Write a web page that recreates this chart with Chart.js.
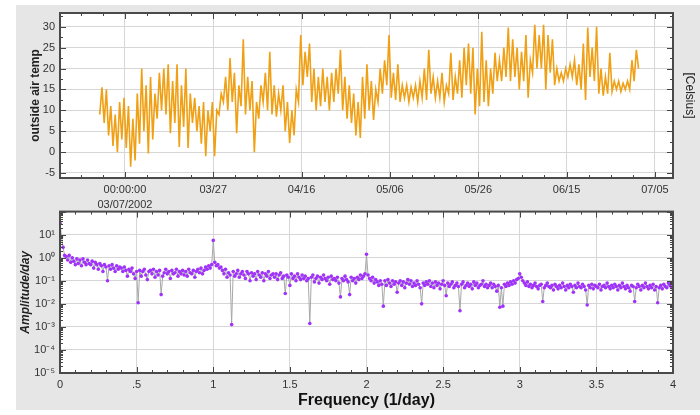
<!DOCTYPE html>
<html><head><meta charset="utf-8">
<script src="https://cdn.jsdelivr.net/npm/chart.js@4.4.1/dist/chart.umd.min.js"></script>
<style>
html,body{margin:0;padding:0;background:#fff;width:700px;height:415px;overflow:hidden;}
#bg{position:absolute;left:16px;top:5px;width:684px;height:405px;background:#e6e6e6;}
canvas{position:absolute;left:0;}
#c1{top:0}
#c2{top:200px}
</style></head><body>
<div id="bg"></div>
<canvas id="c1" width="700" height="215"></canvas>
<canvas id="c2" width="700" height="215"></canvas>
<script>
// ---------- DATA ----------
// top panel: outside air temperature (Celsius), samples every half day starting 5.7 days before 03/07/2002
const tempStartDay = -5.7;
const tempStepDays = 0.5;
const outsideTemp = [
  9,15.5, 7,15, 4,11, 1.5,9, 0,12, 3,13,
  1,11, -3.5,8, -2,14, 2,20, 5,16, -0.3,18, 3,14, 8,19, 10,20, 9,21,
  4.5,17, 7,21, 1.2,16, 6,20, 1,14, 7,13, 5,11, 2,12, -1,10, 5,12,
  -1,10, 9,14, 12,18, 10,22.5, 12,19, 4.5,16, 11,27, 9,18, 10,17, 0,12,
  8,16, 12,19, 10,24, 9,16, 8.5,14, 10,16, 5,12, 2.2,10, 4,15, 12,28,
  16,24, 18,26, 12,20, 10,18, 11,20, 12,18, 10,19, 12,20, 14,24.5, 10,18,
  8,16, 7,14, 4,12, 3.4,18, 8,21, 10,17, 7.7,15, 12,20, 14,22, 16,28,
  13,19, 12.5,21, 12,16, 13,16, 12,15.5, 13,16, 12,17, 13,20, 12.5,24.5, 14,18,
  13,17, 13,19, 12,16, 14,23.8, 12.5,18, 14,22, 13,25, 16,26, 14,25, 9,20,
  11,28.8, 12,22, 11,20, 14,23.8, 17,22, 17,25, 18,29.8, 17,27, 18,25, 15,24,
  17,28, 13,22, 19,30.5, 20,28, 20,30.5, 15,28, 19,27, 16,20, 17,19, 17,20,
  18,21, 18,22, 16,21, 15,26, 12.5,29.8, 18,25, 17,30, 14,20, 13.5,18, 14,23.8,
  14.5,17, 15,17, 14.5,16.5, 15,17, 15,22, 17,24.5, 20
];
const dateTicks = [0, 20, 40, 60, 80, 100, 120];           // days after 03/07/2002
const dateLabels = [['00:00:00', '03/07/2002'], '03/27', '04/16', '05/06', '05/26', '06/15', '07/05'];
const tempTicks = [-5, 0, 5, 10, 15, 20, 25, 30];

// bottom panel: amplitude spectrum, log10(amplitude/day) every 0.01 1/day from 0 to 4
const freqStep = 0.01;
const ampLog10 = [
  1.5,0.9,0.45,0.1,0.05,-0.1,0.1,-0.2,0.0,-0.15,-0.3,-0.05,-0.25,-0.1,-0.35,-0.05,-0.2,-0.3,-0.1,-0.25,
  -0.3,-0.15,-0.45,-0.2,-0.3,-0.5,-0.25,-0.35,-0.6,-0.3,-0.4,-1.0,-0.35,-0.5,-0.3,-0.45,-0.6,-0.35,-0.5,-0.4,
  -0.45,-0.6,-0.4,-0.55,-0.8,-0.5,-0.6,-0.45,-0.7,-0.9,-0.6,-1.95,-0.55,-0.8,-0.6,-0.5,-0.75,-0.95,-0.6,-0.55,
  -0.7,-0.5,-0.85,-0.6,-0.75,-0.55,-1.6,-0.8,-0.65,-0.5,-0.7,-0.6,-0.9,-0.55,-0.7,-0.65,-0.5,-0.8,-0.6,-0.7,
  -0.55,-0.75,-0.6,-0.8,-0.5,-0.65,-0.7,-0.55,-0.85,-0.6,-0.5,-0.65,-0.45,-0.7,-0.55,-0.4,-0.5,-0.35,-0.45,-0.3,
  0.75,-0.2,-0.35,-0.3,-0.45,-0.4,-0.55,-0.7,-0.5,-0.85,-0.65,-0.75,-2.9,-0.6,-0.8,-0.7,-0.55,-0.85,-0.7,-0.6,
  -0.75,-0.9,-0.6,-0.7,-1.0,-0.65,-0.8,-0.7,-0.95,-0.6,-0.75,-0.85,-0.65,-1.0,-0.7,-0.8,-0.6,-0.9,-0.75,-0.7,
  -0.85,-0.7,-0.95,-0.75,-0.65,-0.9,-0.8,-1.55,-0.75,-0.85,-1.2,-0.7,-0.9,-0.8,-1.0,-0.7,-0.85,-0.95,-0.75,-0.9,
  -0.8,-1.0,-0.9,-2.85,-0.85,-0.75,-1.05,-0.9,-0.8,-1.1,-0.85,-0.95,-0.75,-0.9,-1.0,-0.85,-1.15,-0.8,-0.95,-0.9,
  -1.0,-0.85,-1.1,-1.7,-0.9,-1.0,-0.8,-0.95,-1.05,-1.6,-0.85,-1.0,-0.9,-1.1,-0.85,-0.95,-0.75,-0.9,-0.8,-0.7,
  0.15,-0.75,-0.9,-1.0,-0.85,-1.1,-0.95,-1.05,-1.2,-1.0,-1.15,-2.1,-1.0,-1.2,-0.95,-1.1,-1.25,-1.0,-1.15,-1.05,
  -1.5,-1.1,-1.0,-1.2,-1.05,-1.3,-1.1,-0.95,-1.15,-1.0,-1.25,-1.1,-1.2,-1.0,-1.15,-1.3,-2.0,-1.1,-1.2,-1.05,
  -1.15,-1.0,-1.25,-1.1,-1.3,-1.05,-1.2,-1.1,-1.35,-1.15,-1.0,-1.2,-1.65,-1.1,-1.25,-1.15,-1.05,-1.3,-1.2,-1.1,
  -1.25,-2.3,-1.15,-1.05,-1.3,-1.2,-1.1,-1.25,-1.15,-1.35,-1.05,-1.2,-1.1,-1.3,-1.2,-1.15,-1.0,-1.25,-1.15,-1.3,
  -1.2,-1.1,-1.3,-1.15,-1.25,-1.45,-1.2,-2.15,-1.3,-2.1,-1.15,-1.25,-1.1,-1.2,-1.05,-1.15,-1.0,-1.1,-0.95,-0.9,
  -0.7,-0.85,-1.0,-1.1,-1.2,-1.05,-1.25,-1.15,-1.3,-1.2,-1.1,-1.25,-1.35,-1.2,-1.15,-1.9,-1.3,-1.2,-1.1,-1.25,
  -1.3,-1.2,-1.4,-1.15,-1.25,-1.35,-1.2,-1.3,-1.1,-1.25,-1.4,-1.2,-1.3,-1.15,-1.25,-1.5,-1.2,-1.3,-1.1,-1.25,
  -1.3,-1.15,-1.25,-1.4,-2.05,-1.2,-1.3,-1.15,-1.35,-1.2,-1.25,-1.3,-1.15,-1.4,-1.25,-1.2,-1.3,-1.1,-1.25,-1.35,
  -1.2,-1.3,-1.15,-1.25,-1.4,-1.2,-1.3,-1.1,-1.25,-1.35,-1.2,-1.3,-1.45,-1.2,-1.25,-1.9,-1.3,-1.15,-1.25,-1.4,
  -1.2,-1.3,-1.1,-1.25,-1.35,-1.2,-1.3,-1.15,-1.4,-1.25,-1.95,-1.3,-1.2,-1.35,-1.15,-1.25,-1.3,-1.1,-1.2,-1.3,
  -1.15
];
const freqTicks = [0, 0.5, 1, 1.5, 2, 2.5, 3, 3.5, 4];
const freqLabels = ['0', '.5', '1', '1.5', '2', '2.5', '3', '3.5', '4'];
const ampTicks = [1e-5, 1e-4, 1e-3, 1e-2, 1e-1, 1e0, 1e1, 1e2];
const ampLabels = ['10\u207B\u2075', '10\u207B\u2074', '10\u207B\u00B3', '10\u207B\u00B2', '10\u207B\u00B9', '10\u2070', '10\u00B9', ''];

// ---------- STYLE ----------
const ORANGE = 'rgb(240,160,20)';
const PURPLE = 'rgb(160,50,250)';
const GRID = '#d6d6d6';
Chart.defaults.font.family = '"Liberation Sans", Arial, Helvetica, sans-serif';
Chart.defaults.color = '#333';

function steps(a, b, s) { const r = []; for (let v = Math.ceil(a / s) * s; v <= b + 1e-9; v += s) r.push(+v.toFixed(6)); return r; }
function logMinors(n0, n1) { const r = []; for (let n = n0; n < n1; n++) for (let k = 2; k <= 9; k++) r.push(k * Math.pow(10, n)); return r; }

const framePlugin = {
  id: 'frame',
  beforeDraw(chart) {
    const {ctx, chartArea: a} = chart;
    ctx.save(); ctx.fillStyle = '#fff';
    ctx.fillRect(a.left, a.top, a.right - a.left, a.bottom - a.top);
    ctx.restore();
  },
  afterDraw(chart, args, o) {
    const {ctx, chartArea: a} = chart;
    const xs = chart.scales.x, ys = chart.scales.y;
    ctx.save();
    ctx.strokeStyle = '#444'; ctx.lineWidth = 1;
    ctx.beginPath();
    const vx = (vals, len) => vals.forEach(v => { const p = Math.round(xs.getPixelForValue(v)) + 0.5; if (p < a.left || p > a.right) return;
      ctx.moveTo(p, a.bottom); ctx.lineTo(p, a.bottom - len); ctx.moveTo(p, a.top); ctx.lineTo(p, a.top + len); });
    const vy = (vals, len) => vals.forEach(v => { const p = Math.round(ys.getPixelForValue(v)) + 0.5; if (p < a.top || p > a.bottom) return;
      ctx.moveTo(a.left, p); ctx.lineTo(a.left + len, p); ctx.moveTo(a.right, p); ctx.lineTo(a.right - len, p); });
    vx(o.xMajor, 6); vx(o.xMinor, 3); vy(o.yMajor, 6); vy(o.yMinor, 3);
    ctx.stroke();
    ctx.lineWidth = 2; ctx.strokeStyle = '#4a4a4a';
    ctx.strokeRect(a.left, a.top, a.right - a.left, a.bottom - a.top);
    ctx.restore();
  }
};

// ---------- TOP CHART ----------
const tempPoints = outsideTemp.map((v, i) => ({x: tempStartDay + i * tempStepDays, y: v}));
const X1MIN = -14.7, X1MAX = 124.1, Y1MIN = -6.2, Y1MAX = 33.3;
new Chart(document.getElementById('c1'), {
  type: 'line',
  data: {datasets: [{data: tempPoints, borderColor: ORANGE, borderWidth: 1.6, pointRadius: 0, tension: 0, fill: false}]},
  options: {
    responsive: false, animation: false, devicePixelRatio: 1,
    layout: {padding: {top: 13, left: 0, right: 0, bottom: 0}},
    plugins: {legend: {display: false}, tooltip: {enabled: false},
      frame: {xMajor: dateTicks, xMinor: steps(X1MIN, X1MAX, 5), yMajor: tempTicks, yMinor: steps(Y1MIN, Y1MAX, 2.5)}},
    scales: {
      x: {type: 'linear', min: X1MIN, max: X1MAX,
        afterBuildTicks: s => { s.ticks = dateTicks.map(v => ({value: v})); },
        afterFit: s => { s.height = 37; },
        ticks: {callback: v => dateLabels[dateTicks.indexOf(v)], padding: 5, maxRotation: 0, autoSkip: false, font: {size: 11, lineHeight: 1.35}},
        grid: {color: GRID, drawTicks: false}, border: {display: false}},
      y: {type: 'linear', min: Y1MIN, max: Y1MAX,
        afterBuildTicks: s => { s.ticks = tempTicks.map(v => ({value: v})); },
        afterFit: s => { s.width = 60; },
        ticks: {padding: 5, font: {size: 11}},
        grid: {color: GRID, drawTicks: false}, border: {display: false},
        title: {display: true, text: 'outside air temp', color: '#222', font: {size: 12, weight: 'bold'}, padding: {top: 28}}},
      y2: {type: 'linear', position: 'right', min: Y1MIN, max: Y1MAX,
        afterFit: s => { s.width = 27; },
        ticks: {display: false}, grid: {display: false, drawTicks: false}, border: {display: false},
        title: {display: true, text: '[Celsius]', color: '#222', font: {size: 12}, padding: {top: 3}}}
    }
  },
  plugins: [framePlugin]
});

// ---------- BOTTOM CHART ----------
const specPoints = ampLog10.map((v, i) => ({x: i * freqStep, y: Math.pow(10, v)}));
new Chart(document.getElementById('c2'), {
  type: 'line',
  data: {datasets: [{data: specPoints, borderColor: '#a8a8a8', borderWidth: 1, pointRadius: 1.8, pointBorderWidth: 0,
    pointBackgroundColor: PURPLE, tension: 0, fill: false}]},
  options: {
    responsive: false, animation: false, devicePixelRatio: 1,
    layout: {padding: {top: 10, left: 0, right: 27, bottom: 0}},
    plugins: {legend: {display: false}, tooltip: {enabled: false},
      frame: {xMajor: freqTicks, xMinor: steps(0, 4, 0.1), yMajor: ampTicks, yMinor: logMinors(-5, 2)}},
    scales: {
      x: {type: 'linear', min: 0, max: 4,
        afterBuildTicks: s => { s.ticks = freqTicks.map(v => ({value: v})); },
        afterFit: s => { s.height = 42; },
        ticks: {callback: v => freqLabels[freqTicks.indexOf(v)], padding: 5, maxRotation: 0, autoSkip: false, font: {size: 11}},
        grid: {color: GRID, drawTicks: false}, border: {display: false},
        title: {display: true, text: 'Frequency (1/day)', color: '#111', font: {size: 16, weight: 'bold'}, padding: {bottom: 5}}},
      y: {type: 'logarithmic', min: 1e-5, max: 1e2,
        afterBuildTicks: s => { s.ticks = ampTicks.map(v => ({value: v})); },
        afterFit: s => { s.width = 60; },
        ticks: {callback: v => ampLabels[ampTicks.findIndex(t => Math.abs(Math.log10(t) - Math.log10(v)) < 1e-6)], padding: 5, font: {size: 11}},
        grid: {color: GRID, drawTicks: false}, border: {display: false},
        title: {display: true, text: 'Amplitude/day', color: '#222', font: {size: 12, weight: 'bold', style: 'italic'}, padding: {top: 18}}}
    }
  },
  plugins: [framePlugin]
});
</script></body></html>
